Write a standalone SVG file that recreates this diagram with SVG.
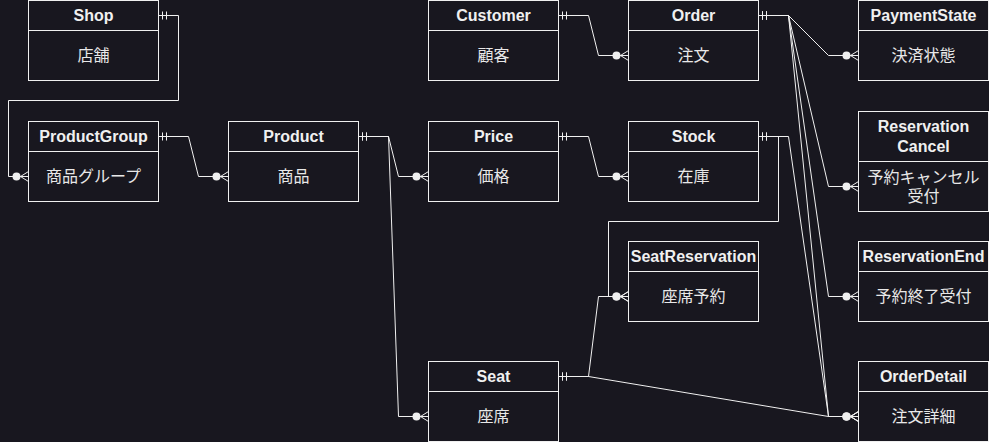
<svg xmlns="http://www.w3.org/2000/svg" width="989" height="442" viewBox="0 0 989 442">
<defs>
<style>
.box{fill:#18171f;stroke:#f0f0f0;stroke-width:1}
.hd{font-family:"Liberation Sans",Arial,"Noto Sans CJK JP",sans-serif;font-size:16px;font-weight:bold;fill:#f0f0f0;text-anchor:middle;dominant-baseline:central}
.bd{font-family:"Liberation Sans",Arial,"Noto Sans CJK JP",sans-serif;font-size:16px;fill:#e8e8e8;text-anchor:middle;dominant-baseline:central}
.edge{fill:none;stroke:#f0f0f0;stroke-width:1;marker-start:url(#one);marker-end:url(#many)}
</style>
<marker id="one" markerUnits="userSpaceOnUse" orient="auto" refX="0" refY="0" markerWidth="20" markerHeight="20" overflow="visible">
<path d="M4,-4V4M8,-4V4" stroke="#f0f0f0" stroke-width="1" fill="none"/>
</marker>
<marker id="many" markerUnits="userSpaceOnUse" orient="auto" refX="0" refY="0" markerWidth="20" markerHeight="20" overflow="visible">
<circle cx="-12" cy="0" r="4" fill="#f0f0f0"/>
<path d="M0,-5L-8,0L0,5M-8,0H0" stroke="#f0f0f0" stroke-width="1" fill="none"/>
</marker>
</defs>
<rect x="0" y="0" width="989" height="442" fill="#18171f"/>
<g id="connectors">
<path class="edge" d="M158.5,15.5H178.5V100.5H8.5V176.5H28.5"/>
<path class="edge" d="M158.5,136.5H188.5L198.5,176.5H228.5"/>
<path class="edge" d="M358.5,136.5H388.5L398.5,176.5H428.5"/>
<path class="edge" d="M358.5,136.5H388.5L398.5,416.5H428.5"/>
<path class="edge" d="M558.5,15.5H588.5L598.5,55.5H628.5"/>
<path class="edge" d="M558.5,136.5H588.5L598.5,176.5H628.5"/>
<path class="edge" d="M758.5,15.5H788.5L828.5,55.5H858.5"/>
<path class="edge" d="M758.5,15.5H788.5L828.5,186.5H858.5"/>
<path class="edge" d="M758.5,15.5H788.5L828.5,296.5H858.5"/>
<path class="edge" d="M758.5,15.5H788.5L828.5,416.5H858.5"/>
<path class="edge" d="M758.5,136.5H788.5L828.5,416.5H858.5"/>
<path class="edge" d="M758.5,136.5H778.5V221.5H608.5V296.5H628.5"/>
<path class="edge" d="M558.5,376.5H588.5L598.5,296.5H628.5"/>
<path class="edge" d="M558.5,376.5H588.5L828.5,416.5H858.5"/>
</g>
<g id="Shop"><rect class="box" x="28.5" y="0.5" width="130" height="80"/><line class="box" x1="28.5" y1="30.5" x2="158.5" y2="30.5"/><text class="hd" x="93.5" y="15">Shop</text><text class="bd" x="93.5" y="55">店舗</text></g>
<g id="Customer"><rect class="box" x="428.5" y="0.5" width="130" height="80"/><line class="box" x1="428.5" y1="30.5" x2="558.5" y2="30.5"/><text class="hd" x="493.5" y="15">Customer</text><text class="bd" x="493.5" y="55">顧客</text></g>
<g id="Order"><rect class="box" x="628.5" y="0.5" width="130" height="80"/><line class="box" x1="628.5" y1="30.5" x2="758.5" y2="30.5"/><text class="hd" x="693.5" y="15">Order</text><text class="bd" x="693.5" y="55">注文</text></g>
<g id="PaymentState"><rect class="box" x="858.5" y="0.5" width="130" height="80"/><line class="box" x1="858.5" y1="30.5" x2="988.5" y2="30.5"/><text class="hd" x="923.5" y="15">PaymentState</text><text class="bd" x="923.5" y="55">決済状態</text></g>
<g id="ProductGroup"><rect class="box" x="28.5" y="121.5" width="130" height="80"/><line class="box" x1="28.5" y1="151.5" x2="158.5" y2="151.5"/><text class="hd" x="93.5" y="136">ProductGroup</text><text class="bd" x="93.5" y="176">商品グループ</text></g>
<g id="Product"><rect class="box" x="228.5" y="121.5" width="130" height="80"/><line class="box" x1="228.5" y1="151.5" x2="358.5" y2="151.5"/><text class="hd" x="293.5" y="136">Product</text><text class="bd" x="293.5" y="176">商品</text></g>
<g id="Price"><rect class="box" x="428.5" y="121.5" width="130" height="80"/><line class="box" x1="428.5" y1="151.5" x2="558.5" y2="151.5"/><text class="hd" x="493.5" y="136">Price</text><text class="bd" x="493.5" y="176">価格</text></g>
<g id="Stock"><rect class="box" x="628.5" y="121.5" width="130" height="80"/><line class="box" x1="628.5" y1="151.5" x2="758.5" y2="151.5"/><text class="hd" x="693.5" y="136">Stock</text><text class="bd" x="693.5" y="176">在庫</text></g>
<g id="ReservationCancel"><rect class="box" x="858.5" y="111.5" width="130" height="100"/><line class="box" x1="858.5" y1="161.5" x2="988.5" y2="161.5"/><text class="hd" x="923.5" y="126.5">Reservation</text><text class="hd" x="923.5" y="146">Cancel</text><text class="bd" x="923.5" y="177">予約キャンセル</text><text class="bd" x="923.5" y="196">受付</text></g>
<g id="SeatReservation"><rect class="box" x="628.5" y="241.5" width="130" height="80"/><line class="box" x1="628.5" y1="271.5" x2="758.5" y2="271.5"/><text class="hd" x="693.5" y="256">SeatReservation</text><text class="bd" x="693.5" y="296">座席予約</text></g>
<g id="ReservationEnd"><rect class="box" x="858.5" y="241.5" width="130" height="80"/><line class="box" x1="858.5" y1="271.5" x2="988.5" y2="271.5"/><text class="hd" x="923.5" y="256">ReservationEnd</text><text class="bd" x="923.5" y="296">予約終了受付</text></g>
<g id="Seat"><rect class="box" x="428.5" y="361.5" width="130" height="80"/><line class="box" x1="428.5" y1="391.5" x2="558.5" y2="391.5"/><text class="hd" x="493.5" y="376">Seat</text><text class="bd" x="493.5" y="416">座席</text></g>
<g id="OrderDetail"><rect class="box" x="858.5" y="361.5" width="130" height="80"/><line class="box" x1="858.5" y1="391.5" x2="988.5" y2="391.5"/><text class="hd" x="923.5" y="376">OrderDetail</text><text class="bd" x="923.5" y="416">注文詳細</text></g>
</svg>
